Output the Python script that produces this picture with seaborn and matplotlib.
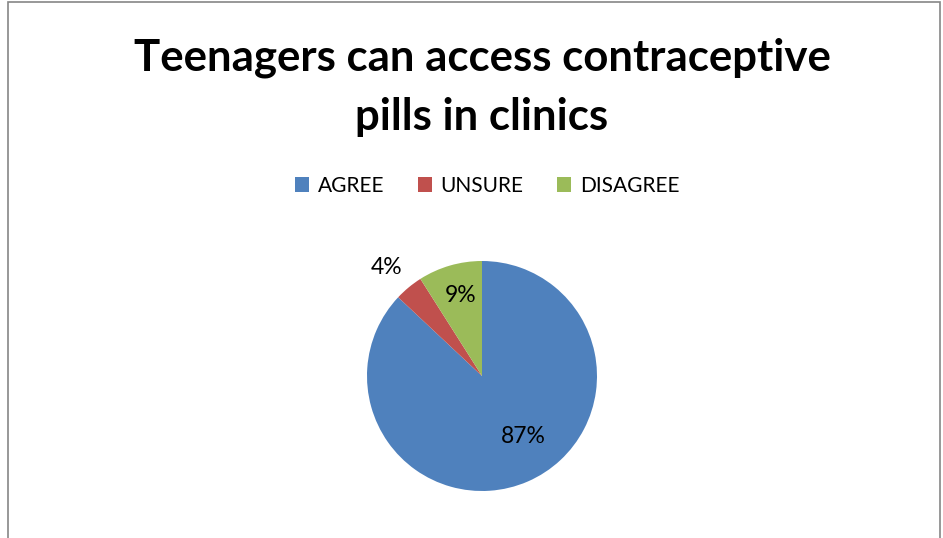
import seaborn as sns
import matplotlib.pyplot as plt
from matplotlib.patches import Rectangle, Patch

sns.set_style("white")
plt.rcParams['font.family'] = ['Lato', 'DejaVu Sans']
plt.rcParams['text.color'] = 'black'

# data
categories = ["AGREE", "UNSURE", "DISAGREE"]
shares = [87, 4, 9]
pct_labels = ["87%", "4%", "9%"]
colors = ["#4F81BD", "#C0504D", "#9BBB59"]

# label offsets relative to pie centre, in radius units
label_pos = [(0.357, -0.530), (-0.83, 0.94), (-0.19, 0.70)]

W, H = 943, 538
fig = plt.figure(figsize=(W / 100, H / 100), dpi=100)
fig.patch.set_facecolor("white")

cx, cy, r = 482, 376, 115
ax = fig.add_axes([(cx - r) / W, (H - cy - r) / H, 2 * r / W, 2 * r / H])
wedges, _ = ax.pie(shares, colors=colors, startangle=90, counterclock=False,
                   radius=1.0, wedgeprops=dict(linewidth=0))
ax.set_xlim(-1, 1)
ax.set_ylim(-1, 1)
ax.set_aspect("equal")
ax.axis("off")

for txt, (lx, ly) in zip(pct_labels, label_pos):
    ax.text(lx, ly, txt, ha="center", va="center", fontsize=16.5, color="black",
            clip_on=False)

fig.text(cx / W, 1 - 58 / H, "Teenagers can access contraceptive",
         ha="center", va="center", fontsize=31.5, fontweight="bold", color="black")
fig.text(cx / W, 1 - 117 / H, "pills in clinics",
         ha="center", va="center", fontsize=31.5, fontweight="bold", color="black")

handles = [Patch(facecolor=c, edgecolor="none") for c in colors]
fig.legend(handles, categories, loc="center", bbox_to_anchor=(487 / W, 1 - 186 / H),
           ncol=3, frameon=False, fontsize=15, handlelength=0.7, handleheight=0.7,
           handletextpad=0.4, columnspacing=1.6, labelcolor="black")

fig.add_artist(Rectangle((8 / W, -0.05), 932 / W, 1.05 - 2 / H,
                         transform=fig.transFigure, fill=False,
                         edgecolor="#868686", linewidth=1.2))

fig.savefig("out.png", dpi=100)
